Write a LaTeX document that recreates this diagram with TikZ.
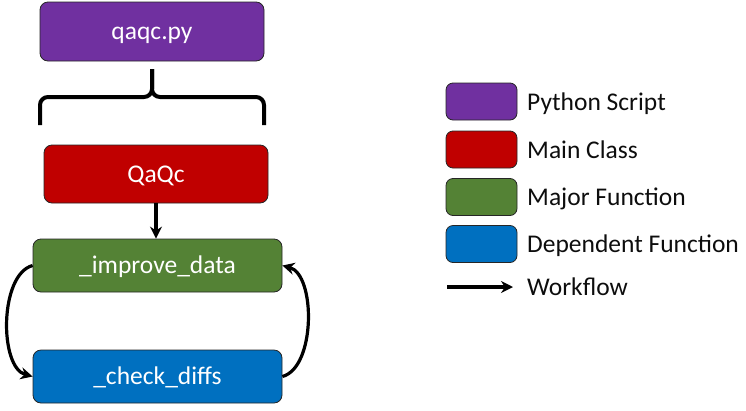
\documentclass[tikz,border=0pt]{standalone}
\usepackage{fontspec}
\setmainfont{Carlito}
\usetikzlibrary{arrows.meta}
\definecolor{cpurple}{HTML}{7030A0}
\definecolor{cred}{HTML}{C00000}
\definecolor{cgreen}{HTML}{548235}
\definecolor{cblue}{HTML}{0070C0}
\definecolor{ctext}{HTML}{0D0D0D}
\tikzset{
  box/.style={draw=black!85, line width=0.8pt, rounded corners=8pt, text=white,
    font=\fontsize{25.5}{30}\selectfont, inner sep=0pt, anchor=center,
    text height=16.4pt, text depth=0pt},
  legbox/.style={draw=black!85, line width=0.8pt, rounded corners=7pt,
    minimum width=71pt, minimum height=37pt, inner sep=0pt},
  legtext/.style={anchor=west, text=ctext, font=\fontsize{25.5}{30}\selectfont, inner sep=0pt,
    text height=16.4pt, text depth=0pt},
  arr/.style={line width=3.2pt, -{Stealth[length=12pt,width=12pt]}},
  bracestyle/.style={line width=4pt, rounded corners=8pt, line cap=butt}
}
\begin{document}
\begin{tikzpicture}[x=1pt,y=-1pt]
\useasboundingbox (0,0) rectangle (746,410);
% main boxes
\node[box, fill=cpurple, minimum width=224pt, minimum height=59pt] (py) at (152,31.5) {qaqc.py};
\node[box, fill=cred, minimum width=224pt, minimum height=58pt] (qc) at (156,174) {QaQc};
\node[box, fill=cgreen, minimum width=249pt, minimum height=53pt] (imp) at (157.5,265.5) {\_improve\_data};
\node[box, fill=cblue, minimum width=249pt, minimum height=53pt] (cd) at (157.5,376.5) {\_check\_diffs};
% brace
\coordinate (bl) at (40,125);
\coordinate (br) at (264,125);
\coordinate (bm) at (152,97);
\coordinate (bt) at (152,69);
\draw[bracestyle] (bl) |- (bm) -- (bt);
\draw[bracestyle] (br) |- (bm) -- (bt);
% arrows
\draw[arr] (qc.south) -- (qc.south |- imp.north);
\draw[arr] (imp.west) to[out=195, in=165, looseness=0.8] (cd.west);
\draw[arr] (cd.east) to[out=15, in=-15, looseness=0.8] (imp.east);
% legend
\node[legbox, fill=cpurple] (l1) at (481.5,101.5) {};
\node[legbox, fill=cred] (l2) at (481.5,149.5) {};
\node[legbox, fill=cgreen] (l3) at (481.5,197) {};
\node[legbox, fill=cblue] (l4) at (481.5,244) {};
\node[legtext] (t1) at (527,102) {Python Script};
\node[legtext] (t2) at (527,150) {Main Class};
\node[legtext] (t3) at (527,197.5) {Major Function};
\node[legtext] (t4) at (527,244.5) {Dependent Function};
\coordinate (wa) at (447,287);
\coordinate (wb) at (513,287);
\draw[arr] (wa) -- (wb);
\node[legtext] (t5) at (527,287.5) {Workflow};
\end{tikzpicture}
\end{document}
